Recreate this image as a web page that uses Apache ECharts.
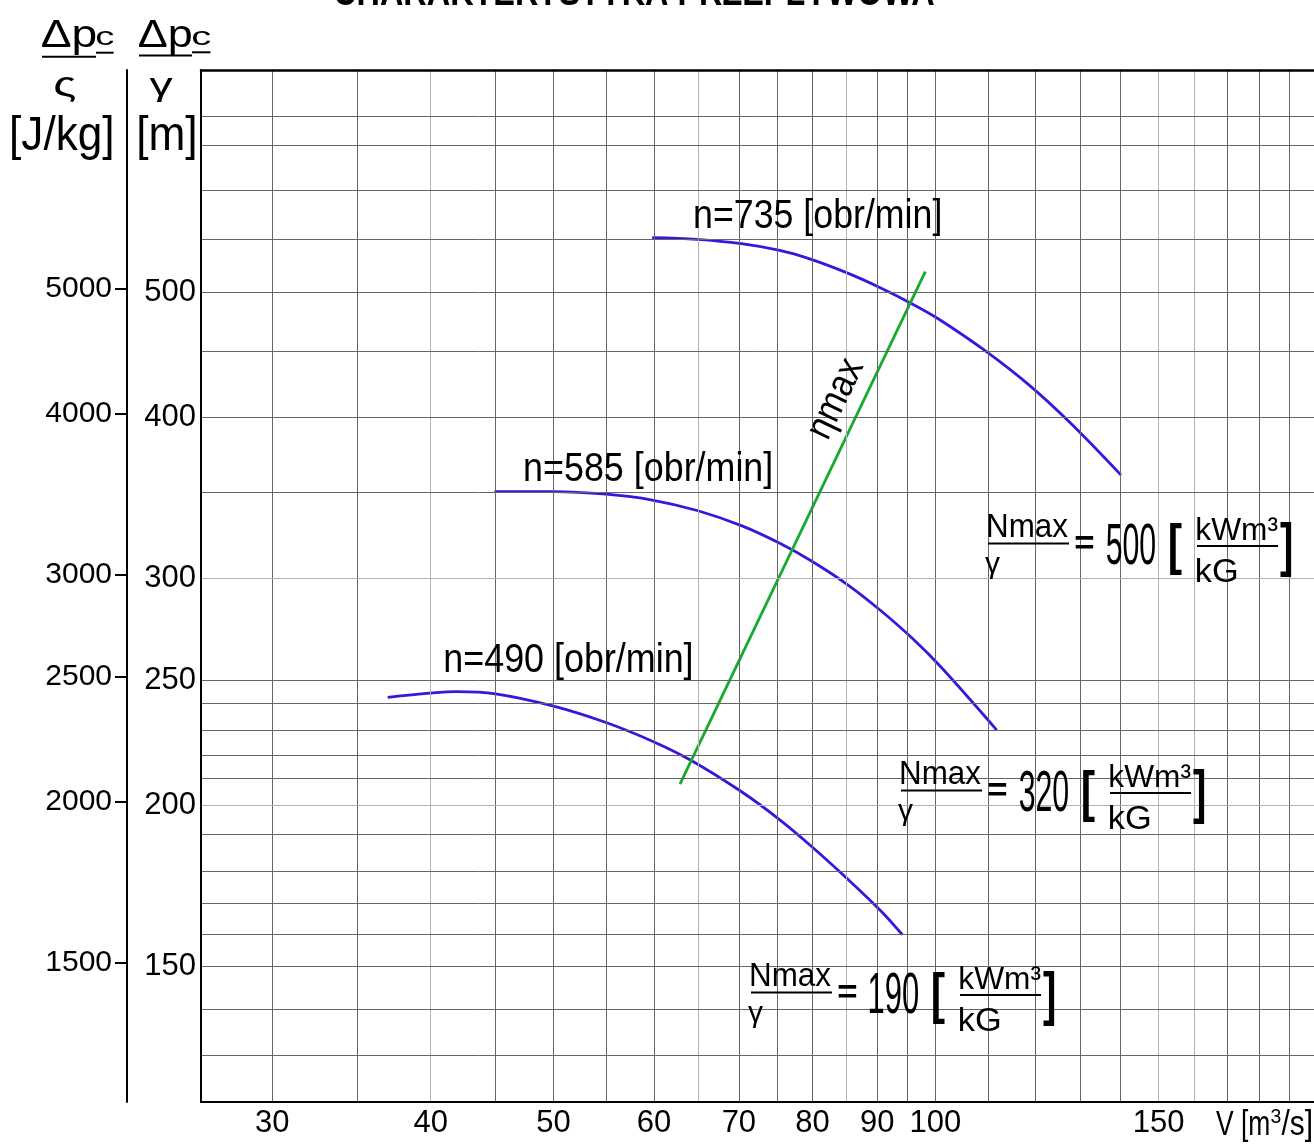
<!DOCTYPE html>
<html><head><meta charset="utf-8">
<script src="https://cdn.jsdelivr.net/npm/echarts@6/dist/echarts.min.js"></script>
<style>html,body{margin:0;padding:0;background:#fff}#c{width:1314px;height:1144px}</style>
</head><body><div id="c"></div>
<script>
// ---------------- data ----------------
const xTicks = [30, 40, 50, 60, 70, 80, 90, 100, 150];
const yTicksHead = [150, 200, 250, 300, 400, 500];           // Δp/γ [m]
const yTicksEnergy = [1500, 2000, 2500, 3000, 4000, 5000];   // Δp/ρ [J/kg]
const xGrid = [30,35,40,45,50,55,60,65,70,75,80,85,90,95,100,110,120,130,140,150,160,170,180,190];
const yGrid = [128,139,150,159,168,178,190,200,210,219,229,240,250,300,350,400,450,500,550,600,650,685];
const xGridLight = [40, 65, 85, 150, 160];
const yGridLight = [170, 180, 200, 300];
const curve735 = [[59.8,551.5],[64.9,549.8],[70.3,545.6],[75.4,539.1],[79.6,531.0],[85.2,517.9],[90.4,504.6],[95.9,490.0],[100.6,477.0],[109.4,450.9],[118.9,422.9],[128.0,395.5],[140.1,360.9]];
const curve585 = [[44.9,350.4],[50.0,350.4],[55.0,348.8],[59.8,345.2],[64.9,338.8],[70.4,329.6],[75.4,319.5],[79.8,309.7],[85.3,296.7],[90.5,283.5],[96.0,269.4],[101.2,255.7],[111.8,228.9]];
const curve490 = [[37.0,242.7],[39.9,244.5],[41.9,245.2],[45.0,244.2],[50.0,238.9],[55.0,232.0],[60.0,224.1],[64.2,216.8],[70.3,205.1],[75.4,195.0],[79.8,186.1],[85.3,175.4],[90.6,165.7],[94.2,158.8]];
const etaMaxLine = [[62.9,207.8],[98.2,519.0]];
const speedLabels = ['n=735 [obr/min]', 'n=585 [obr/min]', 'n=490 [obr/min]'];
const nmaxValues = ['500', '320', '190'];

// ---------------- layout ----------------
const X_MIN = 26.36, X_MAX = 198.9, Y_MIN = 117.8, Y_MAX = 744.1, E_FACTOR = 9.93;
const FONT = '"Liberation Sans", Arial, sans-serif';
const AXSIZE = 31;
const mctx = document.createElement('canvas').getContext('2d');

// fit a text into an ink box {l,r,t,b} or {l,r,base}
function txt(text, box, o) {
  o = o || {};
  const F = o.F || 40;
  const font = (o.bold ? 'bold ' : '') + F + 'px ' + FONT;
  mctx.font = font; mctx.textAlign = 'left';
  mctx.textBaseline = 'alphabetic';
  const m = mctx.measureText(text);
  mctx.textBaseline = 'middle';
  const mm = mctx.measureText(text);
  const midToBase = m.actualBoundingBoxAscent - mm.actualBoundingBoxAscent;
  const inkW = m.actualBoundingBoxLeft + m.actualBoundingBoxRight;
  const inkH = m.actualBoundingBoxAscent + m.actualBoundingBoxDescent;
  const sx = (box.r - box.l) / inkW;
  let sy, base;
  if (box.t != null && box.b != null) { sy = (box.b - box.t) / inkH; base = box.t + m.actualBoundingBoxAscent * sy; }
  else { sy = 1; base = box.base; }
  return { type:'text', silent:true, z:100, x: box.l + m.actualBoundingBoxLeft * sx, y: base - midToBase * sy,
    scaleX: sx, scaleY: sy,
    style: { text, font, fill:'#000', align:'left', verticalAlign:'middle', textAlign:'left', textVerticalAlign:'middle' } };
}
function hline(x1, x2, y, w) {
  return { type:'line', silent:true, z:100, shape:{x1, y1:y, x2, y2:y}, style:{stroke:'#000', lineWidth:w || 2} };
}
function formula(dx, dy, val) {
  const s = (b) => ({l:b.l+dx, r:b.r+dx, t:b.t+dy, b:b.b+dy});
  return [
    txt('Nmax', s({l:988, r:1068, t:514.5, b:537}), {F:32}),
    hline(988+dx, 1069+dx, 543.5+dy, 2),
    txt('γ', s({l:985, r:1000, t:557, b:579}), {F:30}),
    txt('=', s({l:1075, r:1093.3, t:536, b:549}), {F:40, bold:true}),
    txt(val, s({l:1106.7, r:1155, t:523.3, b:565}), {F:58}),
    txt('[', s({l:1170, r:1181.7, t:521.7, b:575}), {F:55, bold:true}),
    txt('kWm³', s({l:1197.3, r:1278.3, t:517.5, b:540}), {F:32}),
    hline(1197+dx, 1278+dx, 546+dy, 2),
    txt('kG', s({l:1197, r:1236.7, t:558, b:581.7}), {F:32}),
    txt(']', s({l:1280, r:1291.7, t:521.7, b:578.3}), {F:55, bold:true})
  ];
}

const graphics = [
  txt('CHARAKTERYSTYKA PRZEPŁYWOWA', {l:334, r:934, base:5}, {F:40, bold:true}),
  txt('Δp', {l:42, r:96, t:20.7, b:55}, {F:34}),
  txt('c', {l:96.8, r:113.6, t:31, b:45}, {F:25}),
  hline(42, 96, 56.7, 2), hline(96, 113.6, 52.7, 2),
  txt('Δp', {l:139, r:191.5, t:20.7, b:55}, {F:34}),
  txt('c', {l:192.8, r:210.4, t:31, b:45}, {F:25}),
  hline(139, 192, 55.5, 2), hline(192, 210.4, 52.3, 2),
  txt('ς', {l:54.7, r:75.8, t:77.3, b:101.7}, {F:34}),
  txt('γ', {l:149.4, r:172.6, t:78.3, b:101.7}, {F:34}),
  txt('[J/kg]', {l:11.8, r:111.5, t:115, b:160}, {F:48}),
  txt('[m]', {l:138.9, r:194.5, t:115, b:160}, {F:48}),
  txt('V [m', {l:1216, r:1269, t:1110, b:1143}, {F:32}),
  txt('3', {l:1270.5, r:1280.7, t:1109, b:1123}, {F:19}),
  txt('/s]', {l:1281.5, r:1311.3, t:1110, b:1143}, {F:32}),
  txt(speedLabels[0], {l:694.7, r:940.1, t:197.3, b:236.7}, {F:42}),
  txt(speedLabels[1], {l:524.8, r:771, t:451.7, b:490}, {F:42}),
  txt(speedLabels[2], {l:445, r:691.3, t:641.7, b:680.7}, {F:42}),
  { type:'text', silent:true, z:100, x:836, y:399, rotation: 64.4 * Math.PI / 180, scaleX:0.88,
    style:{ text:'ηmax', font:'39px ' + FONT, fill:'#000', align:'center', verticalAlign:'middle', textAlign:'center', textVerticalAlign:'middle' } },
  ...formula(0, 0, nmaxValues[0]),
  ...formula(-87, 247, nmaxValues[1]),
  ...formula(-237, 449, nmaxValues[2])
];

const gridLineData = [
  ...xGrid.map(v => ({ xAxis: v, lineStyle: { color: xGridLight.includes(v) ? '#b4b4b4' : '#666666', width: 1, type: 'solid' } })),
  ...yGrid.map(v => ({ yAxis: v, lineStyle: { color: yGridLight.includes(v) ? '#b4b4b4' : '#666666', width: 1, type: 'solid' } }))
];

const plain = (v) => String(Math.round(v));
const blue = { color: '#3a16dd', width: 2.8 };
const chart = echarts.init(document.getElementById('c'), null, { renderer: 'canvas', width: 1314, height: 1144 });
chart.setOption({
  animation: false,
  backgroundColor: '#fff',
  grid: { left: 201, right: 0, top: 70, bottom: 42, containLabel: false, outerBoundsMode: 'none' },
  xAxis: [{
    type: 'log', min: X_MIN, max: X_MAX, position: 'bottom', z: 5,
    axisLine: { show: true, onZero: false, lineStyle: { color: '#000', width: 2 } },
    axisTick: { show: false }, splitLine: { show: false }, minorTick: { show: false }, minorSplitLine: { show: false },
    axisLabel: { customValues: xTicks, formatter: plain, color: '#000', fontSize: AXSIZE, fontFamily: FONT, margin: 6, hideOverlap: false }
  }, {
    type: 'log', min: X_MIN, max: X_MAX, position: 'top', z: 5,
    axisLine: { show: true, onZero: false, lineStyle: { color: '#000', width: 2.5 } },
    axisTick: { show: false }, axisLabel: { show: false }, splitLine: { show: false }
  }],
  yAxis: [{
    type: 'log', min: Y_MIN, max: Y_MAX, position: 'left', z: 5,
    axisLine: { show: true, onZero: false, lineStyle: { color: '#000', width: 2 } },
    axisTick: { show: false }, splitLine: { show: false }, minorTick: { show: false }, minorSplitLine: { show: false },
    axisLabel: { customValues: yTicksHead, formatter: plain, color: '#000', fontSize: AXSIZE, fontFamily: FONT, margin: 5 }
  }, {
    type: 'log', min: Y_MIN * E_FACTOR, max: Y_MAX * E_FACTOR, position: 'left', offset: 74, z: 5,
    axisLine: { show: true, onZero: false, lineStyle: { color: '#000', width: 2 } },
    axisTick: { show: true, customValues: yTicksEnergy, length: 12, inside: false, lineStyle: { color: '#000', width: 2 } },
    splitLine: { show: false },
    axisLabel: { customValues: yTicksEnergy, formatter: plain, color: '#000', fontSize: 30, fontFamily: FONT, margin: 15 }
  }],
  graphic: { elements: graphics },
  series: [
    { name: 'grid', type: 'line', data: [], silent: true, z: 1, symbol: 'none',
      markLine: { silent: true, symbol: ['none', 'none'], animation: false, label: { show: false }, emphasis: { disabled: true }, data: gridLineData } },
    { name: 'n=735', type: 'line', data: curve735, smooth: 0.35, symbol: 'none', lineStyle: blue, z: 3, silent: true },
    { name: 'n=585', type: 'line', data: curve585, smooth: 0.35, symbol: 'none', lineStyle: blue, z: 3, silent: true },
    { name: 'n=490', type: 'line', data: curve490, smooth: 0.35, symbol: 'none', lineStyle: blue, z: 3, silent: true },
    { name: 'ηmax', type: 'line', data: etaMaxLine, symbol: 'none', lineStyle: { color: '#17ab2e', width: 2.8 }, z: 3, silent: true }
  ]
});
</script></body></html>
